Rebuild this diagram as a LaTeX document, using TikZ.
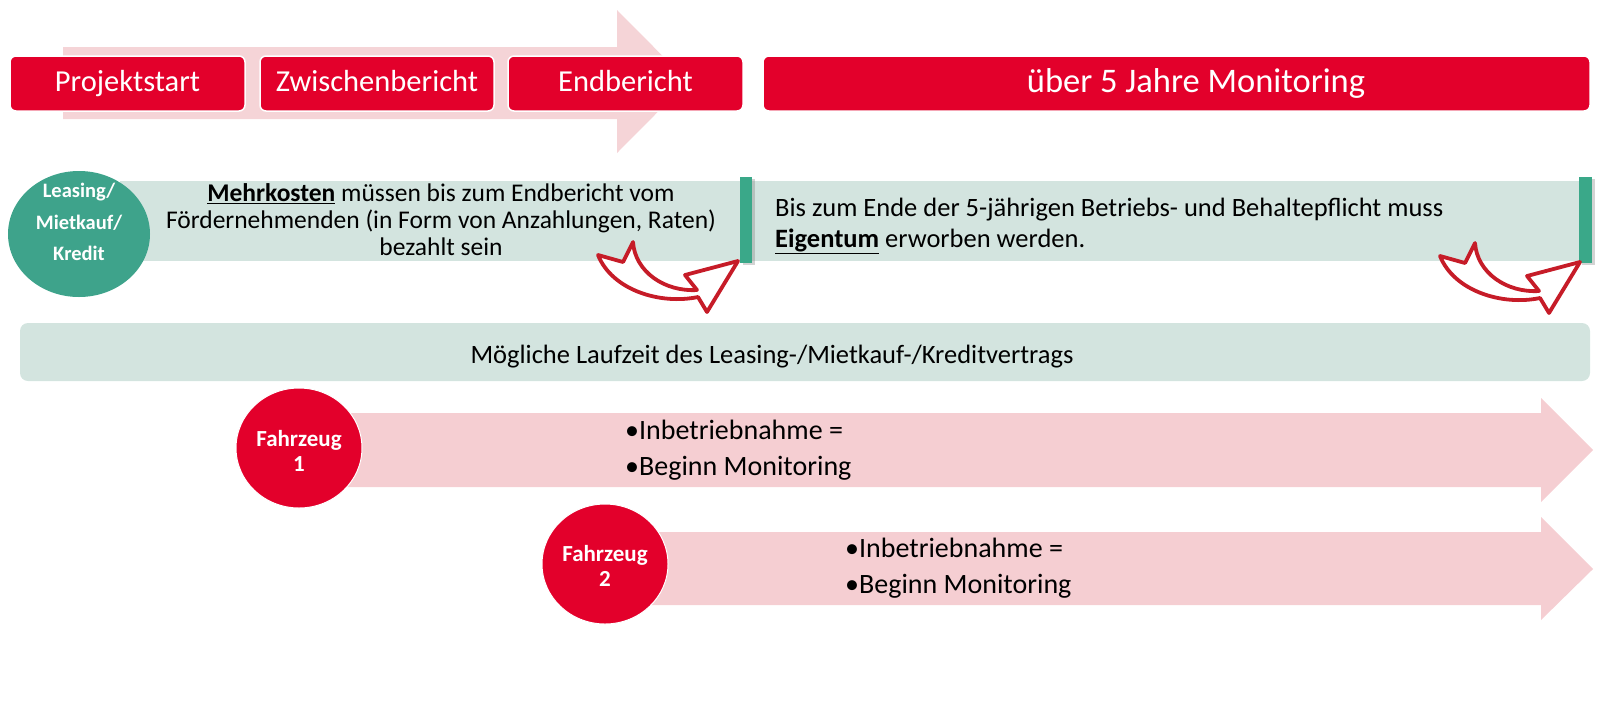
\documentclass[tikz,border=0pt]{standalone}
\usepackage{fontspec}
\setmainfont{Carlito}
\usetikzlibrary{shapes.geometric,shadows}
\definecolor{boxred}{RGB}{227,0,43}
\definecolor{toppink}{RGB}{245,212,215}
\definecolor{arrpink}{RGB}{245,206,210}
\definecolor{bandgreen}{RGB}{211,228,223}
\definecolor{tealc}{RGB}{62,163,139}
\definecolor{barteal}{RGB}{58,168,137}
\definecolor{curvered}{RGB}{198,28,40}
\tikzset{
  topbox/.style={rectangle, rounded corners=6pt, fill=boxred, draw=white, line width=1.5pt,
    inner sep=0pt, minimum height=55pt, text=white, text height=21pt, text depth=6pt,
    font=\fontsize{30.5}{34}\selectfont},
  toptext/.style={text=white, inner sep=0pt, text height=23.5pt, text depth=6.5pt, font=\fontsize{34.5}{38}\selectfont},
  bandbox/.style={fill=bandgreen},
  barbox/.style={fill=barteal, drop shadow={shadow xshift=3pt, shadow yshift=-2pt, opacity=0.35, fill=gray}},
  bandtext/.style={text=black, inner sep=0pt},
  greencirc/.style={ellipse, fill=tealc, inner sep=0pt, minimum width=142pt, minimum height=126pt},
  circtext/.style={text=white, align=center, inner sep=0pt, font=\bfseries\fontsize{20.5}{31.5}\selectfont},
  redcirc/.style={ellipse, fill=boxred, draw=white, line width=1pt, inner sep=0pt, minimum width=126pt, minimum height=120pt},
  redtext/.style={text=white, align=center, inner sep=0pt, font=\bfseries\fontsize{23}{24.5}\selectfont},
  bigarrow/.style={fill=arrpink},
  bullettext/.style={text=black, anchor=west, inner sep=0pt, align=left, font=\fontsize{28}{35.5}\selectfont},
  curvearrow/.style={draw=curvered, fill=white, line width=3.8pt, line join=round}
}
\begin{document}
\begin{tikzpicture}[x=1pt,y=-1pt]
\useasboundingbox (0,0) rectangle (1600,705);
% top background arrow
\fill[toppink] (63,47) -- (617,47) -- (617,10) -- (688,81.5) -- (617,153) -- (617,119) -- (63,119) -- cycle;
% top boxes
\node[topbox, minimum width=235pt] (pstart) at (127.5,83.5) {Projektstart};
\node[topbox, minimum width=234pt] (zwb) at (377,83.5) {Zwischenbericht};
\node[topbox, minimum width=235pt] (endb) at (625.5,83.5) {Endbericht};
\node[topbox, minimum width=827pt] (mon) at (1176.5,83.5) {};
\node[toptext] (montext) at (1196,83.5) {über 5 Jahre Monitoring};
% green bands
\fill[bandbox] (120,181) rectangle (746,261);
\fill[bandbox] (752,181) rectangle (1585,261);
\fill[barbox] (740,177) rectangle (752,263);
\fill[barbox] (1579,177) rectangle (1592,263);
\node[bandtext, align=center, font=\fontsize{25.5}{27}\selectfont] (mehr) at (441,219.5) {\underline{\textbf{Mehrkosten}} müssen bis zum Endbericht vom\\Fördernehmenden (in Form von Anzahlungen, Raten)\\bezahlt sein};
\node[bandtext, align=left, anchor=west, font=\fontsize{26.5}{31.5}\selectfont] (eig) at (775,226) {Bis zum Ende der 5-jährigen Betriebs- und Behaltepflicht muss\\\underline{\textbf{Eigentum}} erworben werden.};
\node[greencirc] (lease) at (79,234) {};
\node[circtext] (leasetext) at (79,222) {Leasing/\\Mietkauf/\\Kredit};
% curved arrows
\draw[curvearrow] (598,255) -- (623,262) -- (633,242) .. controls (635,272) and (665,292) .. (697,290)
  -- (685,275) -- (738,261) -- (707,312) -- (698,297) .. controls (660,305) and (612,290) .. cycle;
\begin{scope}[shift={(842,1)}]
\draw[curvearrow] (598,255) -- (623,262) -- (633,242) .. controls (635,272) and (665,292) .. (697,290)
  -- (685,275) -- (738,261) -- (707,312) -- (698,297) .. controls (660,305) and (612,290) .. cycle;
\end{scope}
% running time band
\fill[bandbox, rounded corners=8pt] (20,323) rectangle (1590,381);
\node[bandtext, font=\fontsize{26.5}{30}\selectfont] (lauf) at (772,357) {Mögliche Laufzeit des Leasing-/Mietkauf-/Kreditvertrags};
% vehicle arrows
\fill[bigarrow] (337,413) -- (1541,413) -- (1541,398) -- (1593,450) -- (1541,502) -- (1541,487) -- (337,487) -- cycle;
\fill[bigarrow] (640,532) -- (1541,532) -- (1541,517) -- (1593,569) -- (1541,620) -- (1541,605) -- (640,605) -- cycle;
\node[redcirc] (fz1) at (299,448) {};
\node[redtext] (fz1text) at (299,451) {Fahrzeug\\1};
\node[redcirc] (fz2) at (605,564) {};
\node[redtext] (fz2text) at (605,566) {Fahrzeug\\2};
\node[bullettext] (b1) at (625,450) {•Inbetriebnahme =\\•Beginn Monitoring};
\node[bullettext] (b2) at (845,568) {•Inbetriebnahme =\\•Beginn Monitoring};
\end{tikzpicture}
\end{document}
